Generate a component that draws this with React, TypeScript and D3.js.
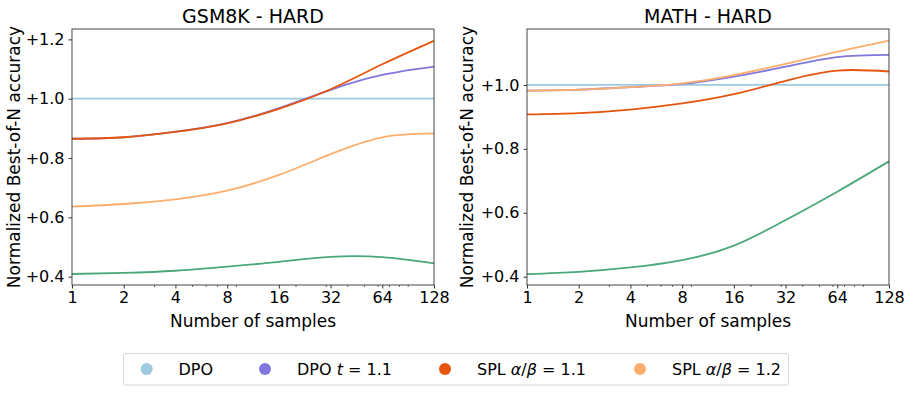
import React, { useRef, useEffect } from 'react';
import * as d3 from 'd3';

// number of samples (x, log2 axis)
const samples = [1, 2, 4, 8, 16, 32, 64, 128];
const xTicks = [1, 2, 4, 8, 16, 32, 64, 128];
const xMinorTicks = [3, 5, 6, 7, 9, 20, 30, 40, 50, 60, 70, 80, 90];

// GSM8K - HARD
const gsmDpo = [1, 1, 1, 1, 1, 1, 1, 1];
const gsmDpoT = [0.865, 0.87, 0.889, 0.918, 0.968, 1.03, 1.08, 1.108];
const gsmSpl11 = [0.865, 0.87, 0.888, 0.917, 0.966, 1.032, 1.116, 1.195];
const gsmSpl12 = [0.636, 0.645, 0.661, 0.69, 0.743, 0.813, 0.87, 0.883];
const gsmOther = [0.409, 0.413, 0.42, 0.434, 0.45, 0.467, 0.466, 0.445];
const gsmYTicks = [0.4, 0.6, 0.8, 1.0, 1.2];

// MATH - HARD
const mathDpo = [1, 1, 1, 1, 1, 1, 1, 1];
const mathDpoT = [0.982, 0.985, 0.993, 1.003, 1.026, 1.057, 1.087, 1.094];
const mathSpl11 = [0.908, 0.912, 0.923, 0.942, 0.971, 1.013, 1.045, 1.042];
const mathSpl12 = [0.982, 0.985, 0.993, 1.005, 1.031, 1.066, 1.104, 1.139];
const mathOther = [0.408, 0.415, 0.429, 0.452, 0.497, 0.577, 0.666, 0.761];
const mathYTicks = [0.4, 0.6, 0.8, 1.0];

const colors = {
  dpo: '#9ecae1',
  dpoT: '#7f77dd',
  spl11: '#e6550d',
  spl12: '#fdae6b',
  other: '#4aa87a',
};

const FONT = 'DejaVu Sans, sans-serif';

const App = () => {
  const svgRef = useRef();

  useEffect(() => {
    const svg = d3.select(svgRef.current);
    svg.selectAll('*').remove();

    const panels = [
      {
        title: 'GSM8K - HARD', left: 72, right: 434, yDomain: [0.372, 1.235], yTicks: gsmYTicks, labelX: 20,
        series: [
          [gsmDpo, colors.dpo], [gsmDpoT, colors.dpoT], [gsmSpl11, colors.spl11],
          [gsmSpl12, colors.spl12], [gsmOther, colors.other],
        ],
      },
      {
        title: 'MATH - HARD', left: 527, right: 889, yDomain: [0.374, 1.175], yTicks: mathYTicks, labelX: 473,
        series: [
          [mathDpo, colors.dpo], [mathDpoT, colors.dpoT], [mathSpl11, colors.spl11],
          [mathSpl12, colors.spl12], [mathOther, colors.other],
        ],
      },
    ];
    const top = 29;
    const bottom = 285;

    panels.forEach(p => {
      const x = d3.scaleLog().base(2).domain([1, 128]).range([p.left, p.right]);
      const y = d3.scaleLinear().domain(p.yDomain).range([bottom, top]);
      const g = svg.append('g');

      // lines
      p.series.forEach(([vals, color]) => {
        const line = d3.line()
          .x((d, i) => x(samples[i]))
          .y(d => y(d))
          .curve(d3.curveNatural);
        g.append('path')
          .attr('d', line(vals))
          .attr('fill', 'none')
          .attr('stroke', color)
          .attr('stroke-width', 1.8);
      });

      // x axis
      const xAxis = g.append('g')
        .attr('transform', `translate(0, ${bottom})`)
        .call(d3.axisBottom(x).tickValues(xTicks).tickFormat(d3.format('d')).tickSize(3.5).tickPadding(3));
      xAxis.select('.domain').remove();
      xAxis.selectAll('text').attr('font-size', 16).attr('font-family', FONT).attr('fill', '#000');
      xAxis.selectAll('line').attr('stroke', '#000').attr('stroke-width', 0.8);
      g.append('g')
        .attr('transform', `translate(0, ${bottom})`)
        .call(d3.axisBottom(x).tickValues(xMinorTicks).tickFormat(() => '').tickSize(2))
        .call(a => a.select('.domain').remove())
        .selectAll('line').attr('stroke', '#000').attr('stroke-width', 0.6);

      // y axis
      const yAxis = g.append('g')
        .attr('transform', `translate(${p.left}, 0)`)
        .call(d3.axisLeft(y).tickValues(p.yTicks).tickFormat(d => '+' + d3.format('.1f')(d)).tickSize(3.5).tickPadding(4));
      yAxis.select('.domain').remove();
      yAxis.selectAll('text').attr('font-size', 16).attr('font-family', FONT).attr('fill', '#000');
      yAxis.selectAll('line').attr('stroke', '#000').attr('stroke-width', 0.8);

      // frame
      g.append('rect')
        .attr('x', p.left).attr('y', top)
        .attr('width', p.right - p.left).attr('height', bottom - top)
        .attr('fill', 'none').attr('stroke', '#333').attr('stroke-width', 0.9);

      // title
      g.append('text')
        .attr('x', (p.left + p.right) / 2).attr('y', 22.5)
        .attr('text-anchor', 'middle')
        .attr('font-size', 19).attr('font-family', FONT)
        .text(p.title);

      // x label
      g.append('text')
        .attr('x', (p.left + p.right) / 2).attr('y', 327)
        .attr('text-anchor', 'middle')
        .attr('font-size', 17).attr('font-family', FONT)
        .text('Number of samples');

      // y label
      g.append('text')
        .attr('transform', `translate(${p.labelX}, ${(top + bottom) / 2}) rotate(-90)`)
        .attr('text-anchor', 'middle')
        .attr('font-size', 17).attr('font-family', FONT)
        .text('Normalized Best-of-N accuracy');
    });

    // legend
    const legend = svg.append('g');
    legend.append('rect')
      .attr('x', 123.5).attr('y', 353.5).attr('width', 665).attr('height', 31.5)
      .attr('rx', 2.5).attr('fill', '#fff').attr('stroke', '#d6d6d6').attr('stroke-width', 1);

    const items = [
      { color: colors.dpo, cx: 146.7, tx: 178.5, parts: [['DPO', false]] },
      { color: colors.dpoT, cx: 265, tx: 297, parts: [['DPO ', false], ['t', true], [' = 1.1', false]] },
      { color: colors.spl11, cx: 445, tx: 477, parts: [['SPL ', false], ['α', true], ['/', false], ['β', true], [' = 1.1', false]] },
      { color: colors.spl12, cx: 640, tx: 672, parts: [['SPL ', false], ['α', true], ['/', false], ['β', true], [' = 1.2', false]] },
    ];
    items.forEach(it => {
      legend.append('circle')
        .attr('cx', it.cx).attr('cy', 369).attr('r', 6)
        .attr('fill', it.color);
      const t = legend.append('text')
        .attr('x', it.tx).attr('y', 375)
        .attr('font-size', 16).attr('font-family', FONT);
      it.parts.forEach(([s, italic]) => {
        t.append('tspan')
          .attr('font-style', italic ? 'italic' : 'normal')
          .attr('xml:space', 'preserve')
          .text(s);
      });
    });
  }, []);

  return (
    <svg
      ref={svgRef}
      width={913}
      height={393}
      style={{ position: 'absolute', left: 0, top: 0, background: '#fff' }}
    ></svg>
  );
};

export default App;
